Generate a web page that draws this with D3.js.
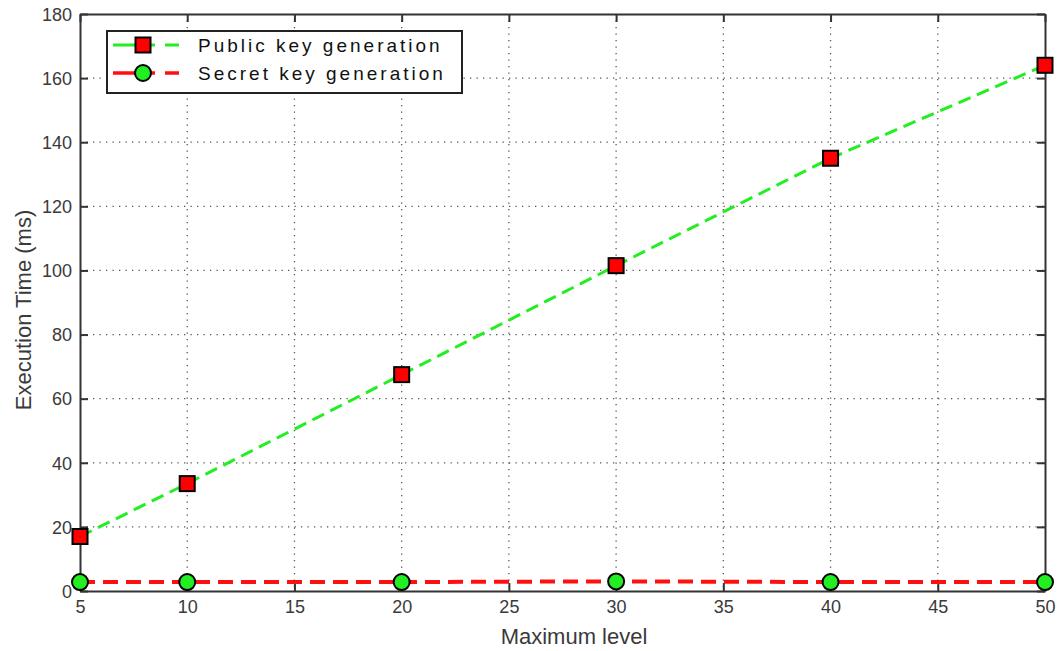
<!DOCTYPE html>
<html>
<head>
<meta charset="utf-8">
<script src="https://cdn.jsdelivr.net/npm/d3@7"></script>
<style>
  body { margin: 0; background: #fff; }
  svg { font-family: "Liberation Sans", Arial, sans-serif; }
</style>
</head>
<body>
<div id="chart"></div>
<script>
// data
var levels = [5, 10, 20, 30, 40, 50]
var publicKey = [17, 33.5, 67.5, 101.5, 135, 164]
var secretKey = [2.8, 2.8, 2.8, 3, 2.8, 2.8]
var xTicks = [5, 10, 15, 20, 25, 30, 35, 40, 45, 50]
var yTicks = [0, 20, 40, 60, 80, 100, 120, 140, 160, 180]
var seriesNames = ["Public key generation", "Secret key generation"]

var width = 1060,
    height = 651
var margin = {left: 80, right: 15, top: 14, bottom: 60}
var w = width - margin.left - margin.right,
    h = height - margin.top - margin.bottom

var svg = d3.select("#chart")
    .append("svg")
        .attr("width", width)
        .attr("height", height)

var g = svg.append("g")
    .attr("transform", "translate(" + margin.left + "," + margin.top + ")")

var x = d3.scaleLinear().domain([5, 50]).range([0, w])
var y = d3.scaleLinear().domain([0, 180]).range([h, 0])

// dotted grid
g.selectAll(".vgrid")
    .data(xTicks.slice(1, -1))
    .enter()
    .append("line")
        .attr("x1", function(d){ return x(d) })
        .attr("x2", function(d){ return x(d) })
        .attr("y1", 0)
        .attr("y2", h)
        .attr("stroke", "#555")
        .attr("stroke-width", 1.3)
        .attr("stroke-dasharray", "1.3,5.2")
g.selectAll(".hgrid")
    .data(yTicks.slice(1, -1))
    .enter()
    .append("line")
        .attr("x1", 0)
        .attr("x2", w)
        .attr("y1", function(d){ return y(d) })
        .attr("y2", function(d){ return y(d) })
        .attr("stroke", "#555")
        .attr("stroke-width", 1.3)
        .attr("stroke-dasharray", "1.3,5.2")

// axes with inner ticks, on all four sides
var tickCol = "#333"
var xb = g.append("g").attr("transform", "translate(0," + h + ")")
    .call(d3.axisBottom(x).tickValues(xTicks).tickSizeInner(-8).tickSizeOuter(0).tickPadding(9))
var xt = g.append("g")
    .call(d3.axisTop(x).tickValues(xTicks).tickSizeInner(-8).tickSizeOuter(0).tickFormat(""))
var yl = g.append("g")
    .call(d3.axisLeft(y).tickValues(yTicks).tickSizeInner(-8).tickSizeOuter(0).tickPadding(8))
var yr = g.append("g").attr("transform", "translate(" + w + ",0)")
    .call(d3.axisRight(y).tickValues(yTicks).tickSizeInner(-8).tickSizeOuter(0).tickFormat(""))

;[xb, xt, yl, yr].forEach(function(a){
    a.selectAll("path").attr("stroke", tickCol).attr("stroke-width", 2)
    a.selectAll("line").attr("stroke", tickCol).attr("stroke-width", 2)
    a.selectAll("text").attr("fill", "#3a3a3a").style("font-size", "18px")
})
yl.selectAll("text").attr("dy", "0.35em")

// line series
var line = d3.line()
    .x(function(d){ return x(d[0]) })
    .y(function(d){ return y(d[1]) })

var pubData = levels.map(function(d, i){ return [d, publicKey[i]] })
var secData = levels.map(function(d, i){ return [d, secretKey[i]] })

g.append("path")
    .datum(pubData)
    .attr("d", line)
    .attr("fill", "none")
    .attr("stroke", "#22ee22")
    .attr("stroke-width", 3)
    .attr("stroke-dasharray", "13,7")

g.append("path")
    .datum(secData)
    .attr("d", line)
    .attr("fill", "none")
    .attr("stroke", "#ff1010")
    .attr("stroke-width", 4)
    .attr("stroke-dasharray", "15,8")

// markers
g.selectAll(".sq")
    .data(pubData)
    .enter()
    .append("rect")
        .attr("x", function(d){ return x(d[0]) - 7.5 })
        .attr("y", function(d){ return y(d[1]) - 7.5 })
        .attr("width", 15)
        .attr("height", 15)
        .attr("fill", "#ff0000")
        .attr("stroke", "#000")
        .attr("stroke-width", 2)

g.selectAll(".dot")
    .data(secData)
    .enter()
    .append("circle")
        .attr("cx", function(d){ return x(d[0]) })
        .attr("cy", function(d){ return y(d[1]) })
        .attr("r", 8)
        .attr("fill", "#22ee22")
        .attr("stroke", "#000")
        .attr("stroke-width", 2)

// axis titles
svg.append("text")
    .attr("x", 574)
    .attr("y", 644)
    .attr("text-anchor", "middle")
    .attr("fill", "#3a3a3a")
    .style("font-size", "22px")
    .text("Maximum level")

svg.append("text")
    .attr("transform", "translate(31,310) rotate(-90)")
    .attr("text-anchor", "middle")
    .attr("fill", "#3a3a3a")
    .style("font-size", "22px")
    .text("Execution Time (ms)")

// legend
var legend = svg.append("g").attr("transform", "translate(107,31)")
legend.append("rect")
    .attr("width", 355)
    .attr("height", 62)
    .attr("fill", "#fff")
    .attr("stroke", "#222")
    .attr("stroke-width", 2)

var legendColors = [["#22ee22", "#ff0000"], ["#ff1010", "#22ee22"]]
seriesNames.forEach(function(name, i){
    var ly = 14 + i * 28
    legend.append("line")
        .attr("x1", 6).attr("x2", 80)
        .attr("y1", ly).attr("y2", ly)
        .attr("stroke", legendColors[i][0])
        .attr("stroke-width", i == 0 ? 3 : 3.5)
        .attr("stroke-dasharray", "42,10,14,10")
    if (i == 0) {
        legend.append("rect")
            .attr("x", 36 - 7.5).attr("y", ly - 7.5)
            .attr("width", 15).attr("height", 15)
            .attr("fill", legendColors[i][1])
            .attr("stroke", "#000").attr("stroke-width", 2)
    } else {
        legend.append("circle")
            .attr("cx", 36).attr("cy", ly)
            .attr("r", 8)
            .attr("fill", legendColors[i][1])
            .attr("stroke", "#000").attr("stroke-width", 2)
    }
    legend.append("text")
        .attr("x", 91)
        .attr("y", ly)
        .attr("dy", "0.35em")
        .attr("fill", "#111")
        .style("font-size", "19px")
        .style("letter-spacing", "3px")
        .text(name)
})
</script>
</body>
</html>
